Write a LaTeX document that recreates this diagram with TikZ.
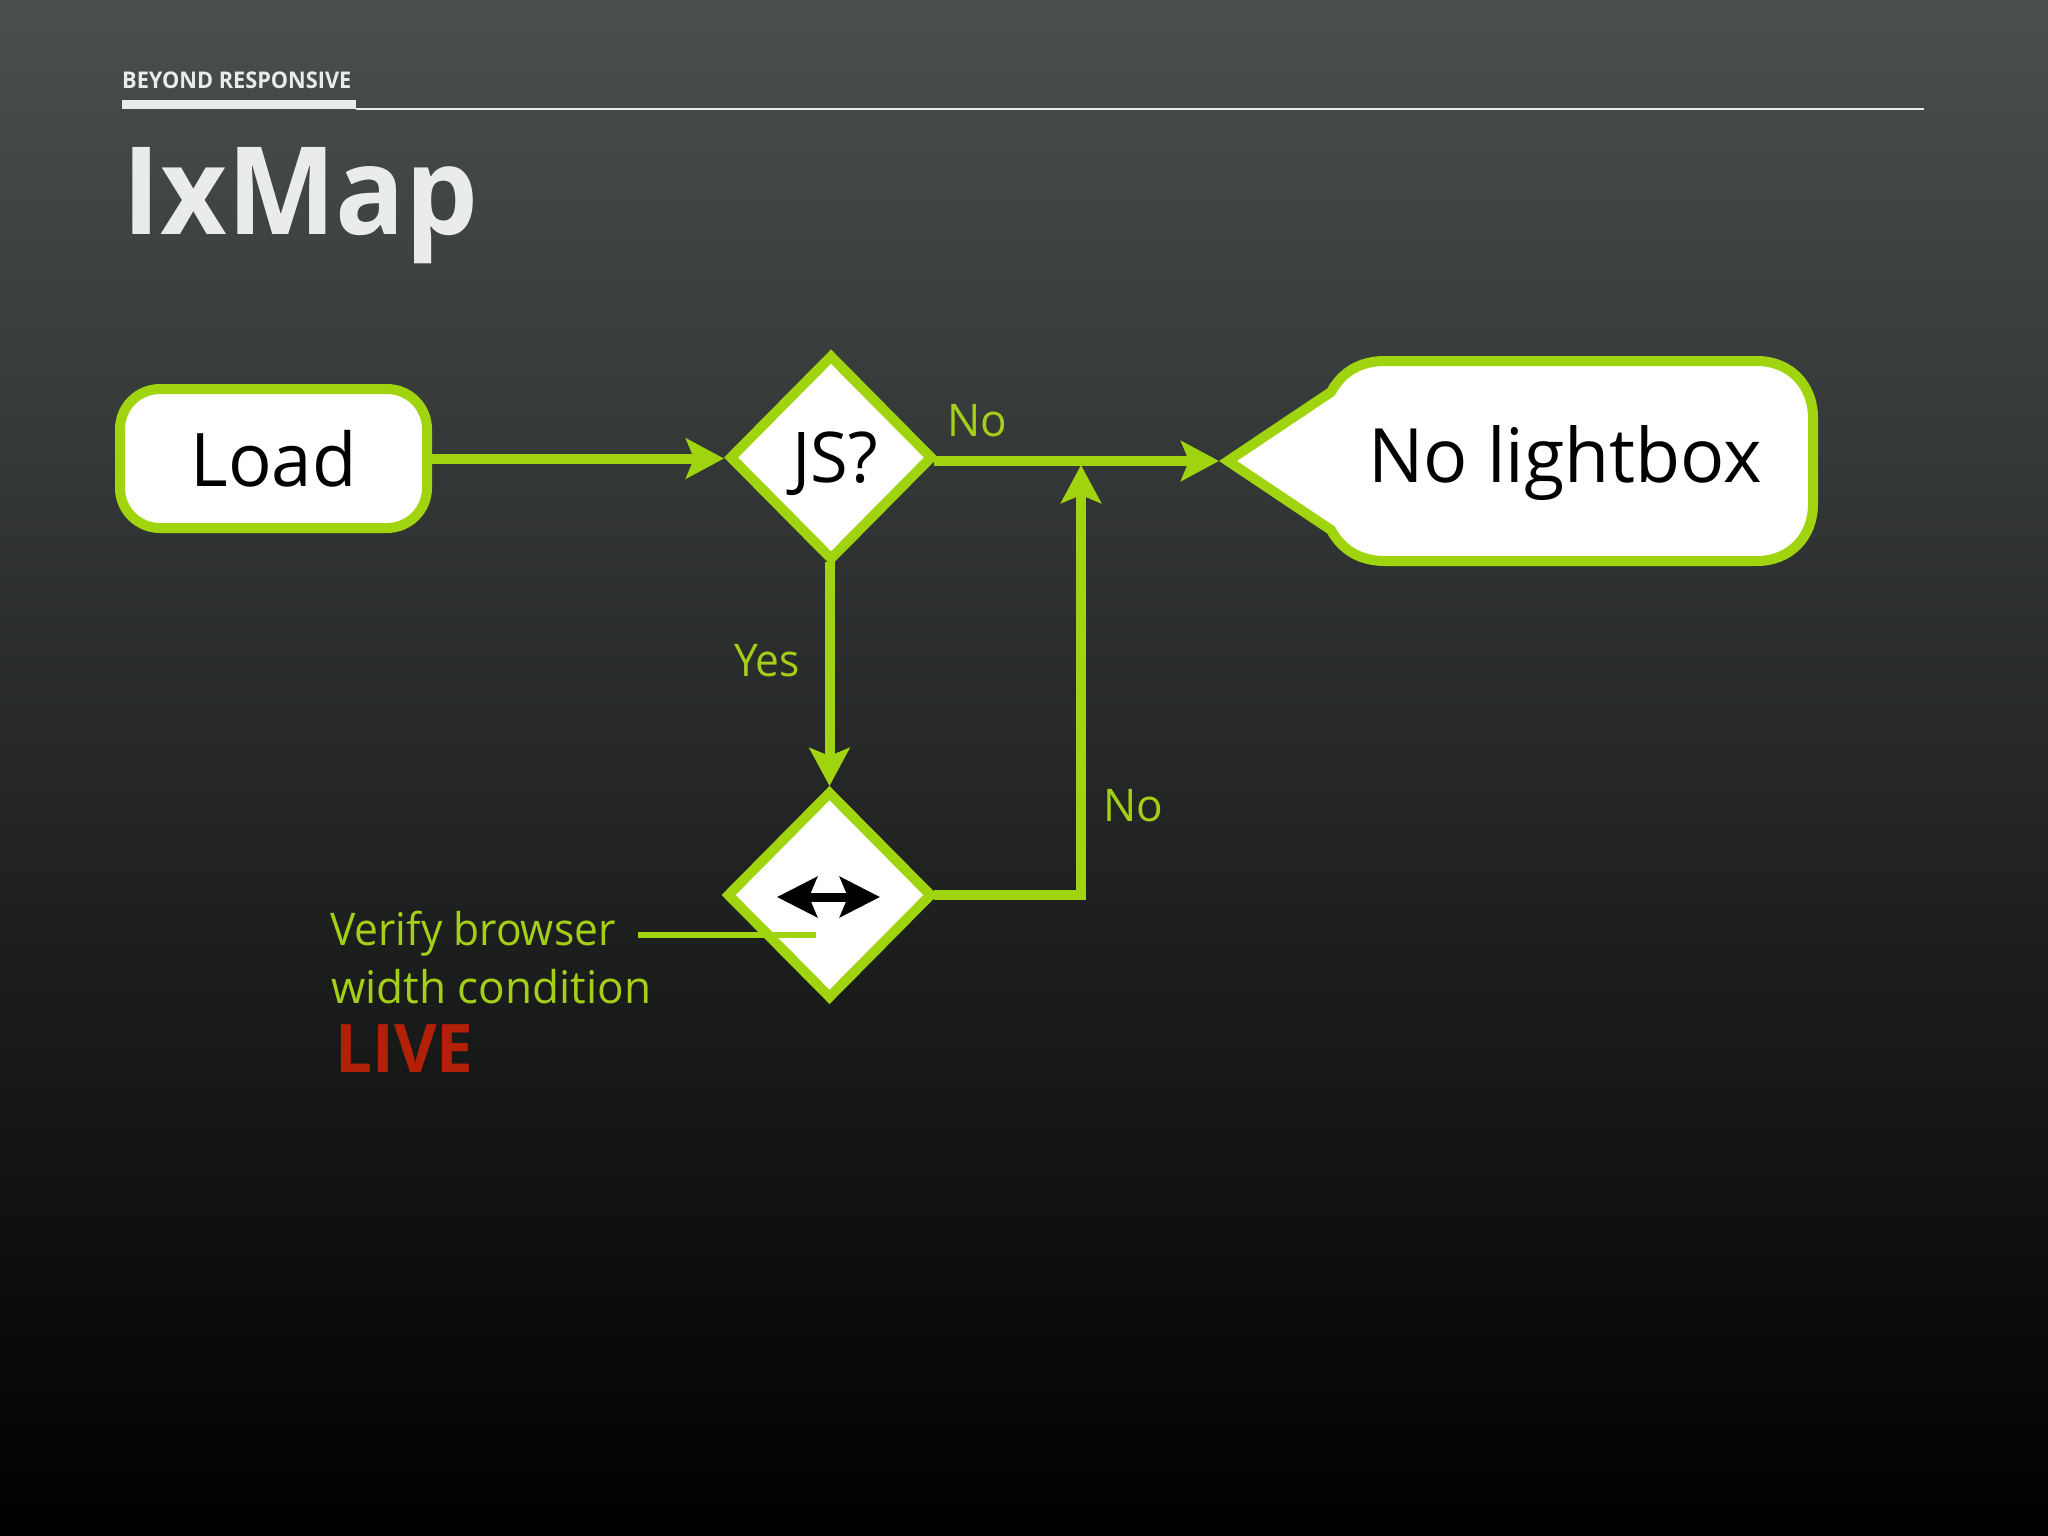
\documentclass[tikz,border=0pt]{standalone}
\usepackage{fontspec}
\setmainfont[FakeStretch=0.98]{Open Sans}
\newfontfamily\narrowfont[FakeStretch=0.945]{Open Sans}
\usetikzlibrary{arrows.meta,shapes.geometric}
\definecolor{flowgreen}{HTML}{A0D40E}
\definecolor{labelgreen}{HTML}{A4CF17}
\definecolor{titlegrey}{HTML}{E9ECEB}
\definecolor{livered}{HTML}{B22008}
\definecolor{bgtop}{HTML}{4A4F4E}
\definecolor{bgmid}{HTML}{232727}
\tikzset{
  fsize/.style={font=\fontsize{#1}{#1}\selectfont},
  flowline/.style={draw=flowgreen,line width=10pt,shorten <=-4pt,-{Stealth[length=38pt,width=40pt,inset=8pt]}},
  decision/.style={diamond,draw=flowgreen,fill=white,line width=10pt,shape aspect=1,inner sep=0pt,text=black},
  edgelabel/.style={fsize=45,text=labelgreen,inner sep=0pt,anchor=base west},
}
\begin{document}
\begin{tikzpicture}[x=1pt,y=-1pt]
    \shade[top color=bgtop,middle color=bgmid,bottom color=black,use as bounding box] (0,0) rectangle (2048,1536);

    \fill[titlegrey] (122,100) rectangle (356,109.5);
    \draw[titlegrey,line width=2pt] (356,109) -- (1924,109);
    \node[font=\narrowfont\fontsize{23}{23}\selectfont\bfseries,text=titlegrey,inner sep=0pt,anchor=base west] (section) at (122,89) {BEYOND RESPONSIVE};
    \node[font=\narrowfont\fontsize{122}{122}\selectfont\bfseries,text=titlegrey,inner sep=0pt,anchor=base west] (title) at (122,234) {IxMap};

    \node[draw=flowgreen,fill=white,line width=10pt,rounded corners=40pt,minimum width=307pt,minimum height=139pt,fsize=74,text=black] (load) at (273.5,458.5) {Load};
    \node[decision,minimum width=204pt,minimum height=206pt,fsize=70,text depth=0pt] (jscheck) at (831,457.5) {\hspace*{8pt}JS?};
    \node[decision,minimum width=206pt,minimum height=208pt] (widthcheck) at (829.5,895) {};

    \coordinate (lightboxtip) at (1219,461);
    \coordinate (merge) at (1081,465);
    \coordinate (leaderstart) at (638,935);
    \coordinate (leaderend) at (816,935);
    \coordinate (widthleft) at (777,897);
    \coordinate (widthright) at (880,897);

    \draw[draw=flowgreen,fill=white,line width=10pt] (1228,461) -- (1331,392)
        .. controls (1342,372) and (1360,361) .. (1385,361) -- (1757,361)
        .. controls (1790,361) and (1813,385) .. (1813,418) -- (1813,504)
        .. controls (1813,537) and (1790,561) .. (1757,561) -- (1385,561)
        .. controls (1360,561) and (1342,550) .. (1331,530) -- cycle;
    \node[fsize=75,text=black,inner sep=0pt,anchor=base west] (lightbox) at (1368,482) {No lightbox};

    \draw[flowline] (load.east) -- (load.east -| jscheck.west);
    \draw[flowline] (jscheck.east |- lightboxtip) -- (lightboxtip);
    \draw[flowline] (jscheck.south -| widthcheck.north) -- (widthcheck.north);
    \draw[flowline,line join=miter] (widthcheck.east) -| (merge);
    \draw[draw=black,line width=9pt,{Stealth[length=40pt,width=40pt,inset=8pt]}-{Stealth[length=40pt,width=40pt,inset=8pt]}] (widthleft) -- (widthright);
    \draw[draw=flowgreen,line width=6pt] (leaderstart) -- (leaderend);

    \node[edgelabel] (nolabel) at (947,436) {No};
    \node[edgelabel] (yeslabel) at (734,676) {\narrowfont Yes};
    \node[edgelabel] (backlabel) at (1103,821) {No};
    \node[edgelabel] (verifylabel) at (330,945) {\narrowfont Verify browser};
    \node[edgelabel] (conditionlabel) at (331,1003) {width condition};
    \node[font=\fontsize{67}{67}\selectfont\bfseries,text=livered,inner sep=0pt,anchor=base west] (livelabel) at (335,1072) {LIVE};
\end{tikzpicture}
\end{document}
